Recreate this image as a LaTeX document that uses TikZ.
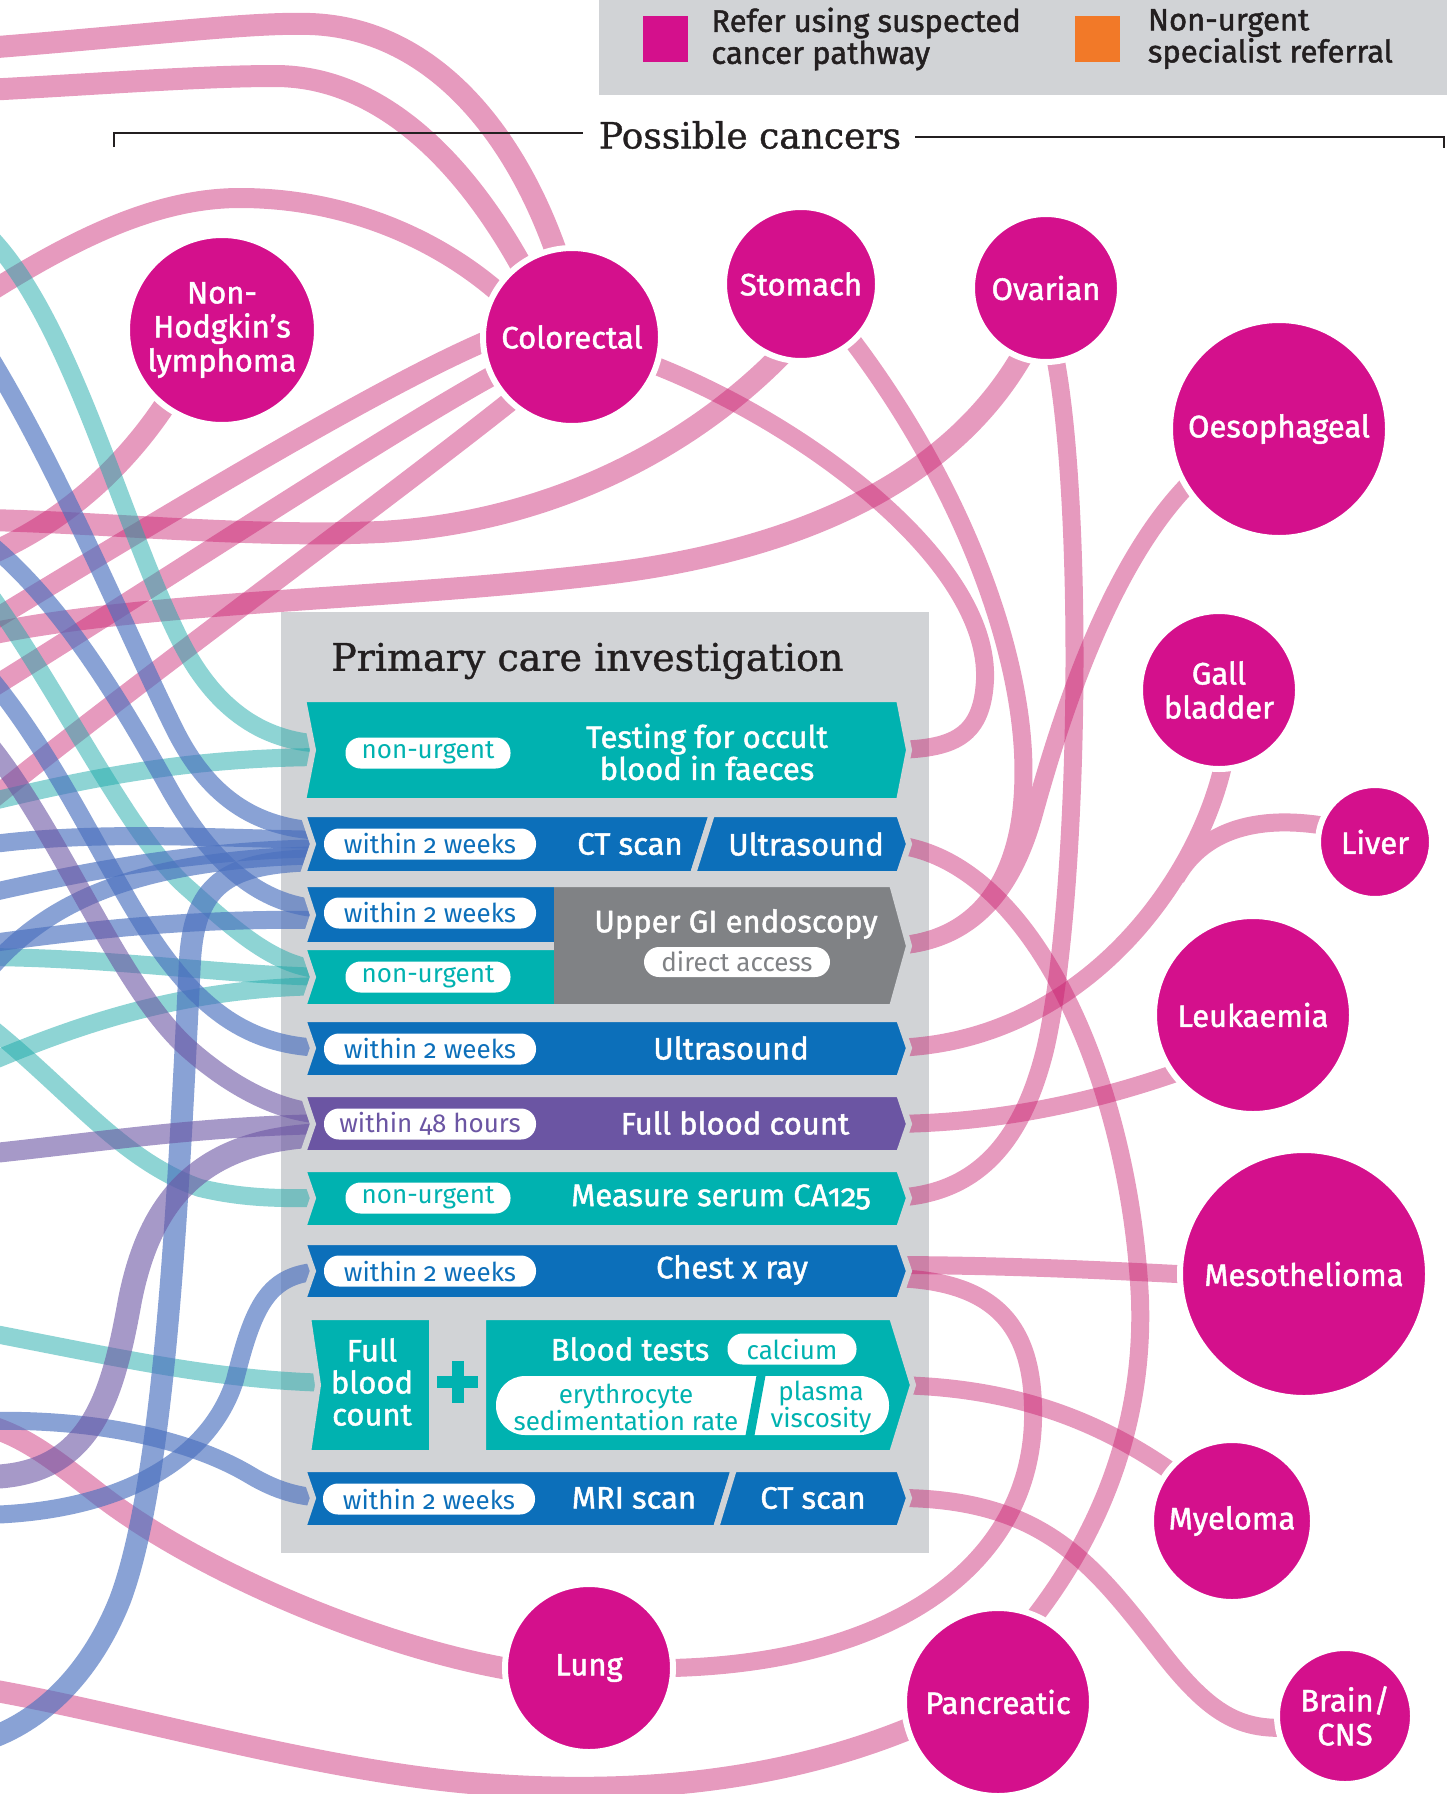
\documentclass[tikz,border=0pt]{standalone}
\usepackage{fontspec}
\setmainfont{Fira Sans}[Numbers=OldStyle]
\newfontfamily\medfont{Fira Sans}[Numbers=OldStyle,FakeBold=1.5]
\newfontfamily\headfont{DejaVu Serif}[FakeBold=1]
\usetikzlibrary{positioning}

\definecolor{cmag}{RGB}{212,16,140}
\definecolor{cpinkr}{RGB}{200,30,110}
\definecolor{cteal}{RGB}{0,178,176}
\definecolor{ctealr}{RGB}{30,170,170}
\definecolor{cblue}{RGB}{12,111,186}
\definecolor{cbluer}{RGB}{74,112,190}
\definecolor{cpurple}{RGB}{107,85,163}
\definecolor{cpanel}{RGB}{209,211,214}
\definecolor{cgreybox}{RGB}{128,130,133}
\definecolor{corange}{RGB}{242,121,40}
\definecolor{ctext}{RGB}{35,31,32}

\pgfdeclarelayer{back}
\pgfdeclarelayer{links}
\pgfsetlayers{back,links,main}

\tikzstyle{cancer} = [circle, fill=cmag, draw=white, line width=6pt, text=white, align=center, inner sep=0pt, font=\medfont\fontsize{31}{34}\selectfont]
\tikzstyle{testbox} = [draw=cpanel, line width=6pt]
\tikzstyle{testtxt} = [text=white, align=center, inner sep=0pt, font=\medfont\fontsize{31}{32}\selectfont]
\tikzstyle{pill} = [fill=white, rounded corners=15pt, minimum height=31pt, minimum width=212pt, inner sep=0pt, align=center, font=\fontsize{26}{27}\selectfont]
\tikzstyle{refer} = [draw=cpinkr, opacity=0.45, line width=18pt]
\tikzstyle{referwide} = [refer, line width=22pt]
\tikzstyle{merged} = [transparency group, opacity=0.45]
\tikzstyle{tealline} = [draw=ctealr, opacity=0.5, line width=18pt]
\tikzstyle{blueline} = [draw=cbluer, opacity=0.65, line width=18pt]
\tikzstyle{purpleline} = [draw=cpurple, opacity=0.6, line width=20pt]
\tikzstyle{tocirc} = [shorten >=-14pt]
\tikzstyle{fromcirc} = [shorten <=-14pt]
\tikzstyle{headtxt} = [text=ctext, inner sep=0pt, font=\headfont\fontsize{38}{40}\selectfont]
\tikzstyle{legendtxt} = [text=ctext, align=left, inner sep=0pt, font=\medfont\fontsize{31}{32}\selectfont]
\tikzstyle{legendsq} = [minimum width=45pt, minimum height=46pt, inner sep=0pt]
\tikzstyle{rule} = [draw=ctext, line width=2pt]

\begin{document}
\begin{tikzpicture}[x=1pt, y=-1pt]
\useasboundingbox (0,0) rectangle (1447,1794);

\begin{pgfonlayer}{back}
\fill [cpanel] (599,0) rectangle (1447,95);
\fill [cpanel] (281,612) rectangle (929,1553);
\end{pgfonlayer}

\node (refersq) [legendsq, fill=cmag] at (665.5,39) {};
\node (refertxt) [legendtxt, right=23pt of refersq] {Refer using suspected\\cancer pathway};
\node (nonsq) [legendsq, fill=corange] at (1097,39) {};
\node (nontxt) [legendtxt, right=28pt of nonsq] {Non-urgent\\specialist referral};

\node (poss) [headtxt, font=\headfont\fontsize{36}{38}\selectfont] at (750,135) {Possible cancers};
\draw [rule] (114,147) -- (114,133) -- (583,133);
\draw [rule] (915,137) -- (1444,137) -- (1444,148);

\node (pci) [headtxt, anchor=west] at (331,661) {Primary care investigation};

\filldraw [testbox, fill=cteal] (303,699) -- (899,699) -- (909,750) -- (899,801) -- (303,801) -- (313,750) -- cycle;
\filldraw [testbox, fill=cblue] (303,814) -- (712,814) -- (693,874) -- (303,874) -- (313,844) -- cycle;
\filldraw [testbox, fill=cblue] (712,814) -- (899,814) -- (909,844) -- (899,874) -- (693,874) -- cycle;
\filldraw [testbox, fill=cblue] (303,884) -- (565,884) -- (565,945) -- (303,945) -- (313,915) -- cycle;
\filldraw [testbox, fill=cteal] (303,947) -- (565,947) -- (565,1007) -- (303,1007) -- (313,977) -- cycle;
\fill [cgreybox] (554,884) -- (892,884) -- (909,946) -- (892,1007) -- (554,1007) -- cycle;
\draw [testbox] (554,884) -- (892,884) -- (909,946) -- (892,1007) -- (554,1007);
\filldraw [testbox, fill=cblue] (303,1019) -- (899,1019) -- (909,1048) -- (899,1078) -- (303,1078) -- (313,1048) -- cycle;
\filldraw [testbox, fill=cpurple] (303,1094) -- (899,1094) -- (909,1124) -- (899,1153) -- (303,1153) -- (313,1124) -- cycle;
\filldraw [testbox, fill=cteal] (303,1169) -- (899,1169) -- (909,1198) -- (899,1228) -- (303,1228) -- (313,1198) -- cycle;
\filldraw [testbox, fill=cblue] (303,1242) -- (899,1242) -- (909,1271) -- (899,1300) -- (303,1300) -- (313,1271) -- cycle;
\filldraw [testbox, fill=cteal] (308,1317) -- (432,1317) -- (432,1453) -- (308,1453) -- (318,1385) -- cycle;
\filldraw [testbox, fill=cteal] (483,1317) -- (892,1317) -- (913,1385) -- (892,1453) -- (483,1453) -- cycle;
\filldraw [testbox, fill=cblue] (303,1469) -- (734,1469) -- (716,1528) -- (303,1528) -- (313,1498) -- cycle;
\filldraw [testbox, fill=cblue] (734,1469) -- (899,1469) -- (909,1498) -- (899,1528) -- (716,1528) -- cycle;
\fill [cteal] (452,1361) rectangle (464,1403);
\fill [cteal] (437,1376) rectangle (478,1388);

\node (fobpill) [pill, text=cteal, minimum width=165pt] at (428,753) {non-urgent};
\node (fob) [testtxt] at (707,752) {Testing for occult\\blood in faeces};
\node (ctpill) [pill, text=cblue] at (430,844) {within 2 weeks};
\node (ct) [testtxt] at (630,844) {CT scan};
\node (ctus) [testtxt] at (806,844) {Ultrasound};
\node (ugpill) [pill, text=cblue] at (430,913) {within 2 weeks};
\node (ugtpill) [pill, text=cteal, minimum width=165pt] at (428,977) {non-urgent};
\node (ugi) [testtxt] at (736,924) {Upper GI endoscopy};
\node (direct) [pill, text=cgreybox, minimum width=186pt, minimum height=30pt] at (737,962) {direct access};
\node (uspill) [pill, text=cblue] at (430,1049) {within 2 weeks};
\node (us) [testtxt] at (731,1048) {Ultrasound};
\node (fbpill) [pill, text=cpurple] at (430,1124) {within 48 hours};
\node (fbc) [testtxt] at (735,1123) {Full blood count};
\node (capill) [pill, text=cteal, minimum width=165pt] at (428,1198) {non-urgent};
\node (ca) [testtxt] at (721,1197) {Measure serum CA125};
\node (cxpill) [pill, text=cblue] at (430,1271) {within 2 weeks};
\node (cx) [testtxt] at (732,1270) {Chest x ray};
\node (fbc2) [testtxt] at (372,1382) {Full\\blood\\count};
\node (bt) [testtxt] at (630,1349) {Blood tests};
\node (calc) [pill, text=cteal, minimum width=129pt] at (792,1349) {calcium};
\node (btpill) [pill, minimum width=393pt, minimum height=59pt, rounded corners=29pt] at (692.5,1405.5) {};
\fill [cteal] (757,1373) -- (766,1373) -- (754,1438) -- (745,1438) -- cycle;
\node (esr) [pill, fill=none, text=cteal] at (626,1407) {erythrocyte\\sedimentation rate};
\node (pv) [pill, fill=none, text=cteal, minimum width=100pt] at (821,1407) {plasma\\viscosity};
\node (mrpill) [pill, text=cblue] at (429,1499) {within 2 weeks};
\node (mri) [testtxt] at (634,1498) {MRI scan};
\node (ct2) [testtxt] at (813,1498) {CT scan};

\node (nhl) [cancer, minimum size=190pt] at (222,330) {Non-\\Hodgkin’s\\lymphoma};
\node (colo) [cancer, minimum size=178pt] at (572,337) {Colorectal};
\node (stom) [cancer, minimum size=154pt] at (801,284) {Stomach};
\node (ov) [cancer, minimum size=148pt] at (1046,288) {Ovarian};
\node (oes) [cancer, minimum size=218pt] at (1279,429) {Oesophageal};
\node (gb) [cancer, minimum size=158pt] at (1219,690) {Gall\\bladder};
\node (liver) [cancer, minimum size=114pt] at (1375,842) {Liver};
\node (leuk) [cancer, minimum size=198pt] at (1253,1015) {Leukaemia};
\node (meso) [cancer, minimum size=248pt] at (1304,1274) {Mesothelioma};
\node (myel) [cancer, minimum size=162pt] at (1232,1521) {Myeloma};
\node (brain) [cancer, minimum size=136pt] at (1345,1716) {Brain/\\CNS};
\node (panc) [cancer, minimum size=188pt] at (998,1702) {Pancreatic};
\node (lung) [cancer, minimum size=168pt] at (589,1668) {Lung};

\coordinate (pkA) at (-15,48);
\coordinate (pkB) at (-15,90);
\coordinate (pkC) at (-15,295);
\coordinate (pkNHL) at (-15,556);
\coordinate (pkStom) at (-15,520);
\coordinate (pkOv) at (-15,635);
\coordinate (pkCol1) at (-15,625);
\coordinate (pkCol2) at (-15,692);
\coordinate (pkCol3) at (-15,805);
\coordinate (pkLung) at (-15,1425);
\coordinate (pkPanc) at (-15,1689);
\coordinate (tlA) at (-15,232);
\coordinate (tlB) at (-15,803);
\coordinate (tlC) at (-15,588);
\coordinate (tlD) at (-15,957);
\coordinate (tlE) at (-15,1064);
\coordinate (tlF) at (-15,1023);
\coordinate (tlG) at (-15,1332);
\coordinate (blA) at (-15,349);
\coordinate (blB) at (-15,540);
\coordinate (blC) at (-15,672);
\coordinate (blD) at (-15,845);
\coordinate (blE) at (-15,894);
\coordinate (blF) at (-15,975);
\coordinate (blG) at (-15,1740);
\coordinate (blH) at (-15,944);
\coordinate (blI) at (-15,1515);
\coordinate (blJ) at (-15,1421);
\coordinate (puA) at (-15,740);
\coordinate (puB) at (-15,1154);
\coordinate (puC) at (-15,1477);

\coordinate (fobL1) at (330,744);
\coordinate (fobL2) at (330,757);
\coordinate (ctL1) at (330,831);
\coordinate (ctL2) at (330,840);
\coordinate (ctL3) at (330,848);
\coordinate (ctL4) at (330,855);
\coordinate (ctL5) at (330,860);
\coordinate (ugL1) at (330,909);
\coordinate (ugL2) at (330,920);
\coordinate (utL1) at (330,970);
\coordinate (utL2) at (330,977);
\coordinate (utL3) at (330,986);
\coordinate (usL) at (330,1048);
\coordinate (fbL1) at (330,1114);
\coordinate (fbL2) at (330,1124);
\coordinate (fbL3) at (330,1135);
\coordinate (caL) at (330,1198);
\coordinate (cxL) at (330,1271);
\coordinate (bcL) at (335,1383);
\coordinate (mrL) at (330,1498);
\coordinate (fobR) at (885,750);
\coordinate (ctR) at (885,844);
\coordinate (ugR) at (885,946);
\coordinate (usR) at (885,1048);
\coordinate (fbR) at (885,1124);
\coordinate (caR) at (885,1198);
\coordinate (cxR1) at (885,1265);
\coordinate (cxR2) at (885,1278);
\coordinate (btR) at (885,1385);
\coordinate (mrR) at (885,1498);
\coordinate (gbjoin) at (1176,878);

\begin{pgfonlayer}{links}
\draw [referwide, tocirc] (pkA) .. controls (150,35) and (250,22) .. (310,24) .. controls (430,28) and (515,130) .. (colo.101);
\draw [referwide, tocirc] (pkB) .. controls (100,84) and (200,76) .. (275,76) .. controls (385,76) and (470,170) .. (colo.125);
\draw [refer, tocirc, line width=20pt] (pkC) .. controls (80,235) and (160,198) .. (240,198) .. controls (340,198) and (435,235) .. (colo.148);
\draw [referwide, fromcirc] (nhl.233) .. controls (130,460) and (70,520) .. (pkNHL);
\draw [referwide, fromcirc] (stom.252) .. controls (700,440) and (560,522) .. (380,532) .. controls (250,538) and (100,522) .. (pkStom);
\draw [referwide, fromcirc] (ov.250) .. controls (960,470) and (820,545) .. (620,572) .. controls (400,600) and (150,600) .. (pkOv);
\draw [refer, fromcirc, line width=20pt] (colo.184) .. controls (380,385) and (150,525) .. (pkCol1);
\draw [refer, fromcirc, line width=20pt] (colo.206) .. controls (400,425) and (150,590) .. (pkCol2);
\draw [refer, fromcirc, line width=20pt] (colo.226) .. controls (400,490) and (100,710) .. (pkCol3);
\draw [refer, fromcirc] (colo.341) .. controls (800,420) and (990,560) .. (985,680) .. controls (982,740) and (950,750) .. (fobR);
\begin{scope}[merged]
\draw [refer, opacity=1, fromcirc] (stom.312) .. controls (960,480) and (1030,660) .. (1023,790) .. controls (1018,900) and (960,946) .. (ugR);
\draw [refer, opacity=1, fromcirc] (oes.212) .. controls (1110,560) and (1060,720) .. (1035,810) .. controls (1015,885) and (975,946) .. (ugR);
\end{scope}
\draw [refer, fromcirc] (ov.278) .. controls (1085,500) and (1080,900) .. (1045,1050) .. controls (1020,1150) and (970,1198) .. (caR);
\draw [refer, tocirc] (ctR) .. controls (1030,850) and (1130,1080) .. (1140,1300) .. controls (1145,1450) and (1080,1560) .. (panc.66);
\begin{scope}[merged]
\draw [refer, opacity=1, fromcirc] (gb.272) .. controls (1200,880) and (1080,1048) .. (usR);
\draw [refer, opacity=1, fromcirc] (liver.163) .. controls (1250,812) and (1200,835) .. (gbjoin);
\end{scope}
\draw [refer, tocirc] (fbR) .. controls (1000,1124) and (1100,1100) .. (leuk.216);
\draw [refer, tocirc] (cxR1) .. controls (1000,1265) and (1100,1270) .. (meso.180);
\draw [refer, tocirc] (cxR2) .. controls (1000,1278) and (1035,1330) .. (1033,1420) .. controls (1030,1560) and (900,1665) .. (lung.0);
\draw [refer, tocirc] (btR) .. controls (1010,1385) and (1100,1420) .. (myel.141);
\draw [refer, tocirc] (mrR) .. controls (1040,1495) and (1090,1560) .. (1160,1650) .. controls (1210,1715) and (1240,1730) .. (brain.190);
\draw [referwide, fromcirc] (lung.180) .. controls (380,1648) and (200,1572) .. (100,1495) .. controls (55,1460) and (25,1436) .. (pkLung);
\draw [referwide, fromcirc] (panc.197) .. controls (800,1775) and (650,1800) .. (460,1782) .. controls (300,1766) and (120,1712) .. (pkPanc);

\draw [tealline] (tlA) .. controls (70,315) and (120,520) .. (180,640) .. controls (215,710) and (265,744) .. (fobL1);
\draw [tealline] (tlB) .. controls (100,775) and (200,757) .. (fobL2);
\draw [tealline] (tlC) .. controls (60,690) and (130,840) .. (190,890) .. controls (240,935) and (280,970) .. (utL1);
\draw [tealline] (tlD) .. controls (120,958) and (220,975) .. (utL2);
\draw [tealline] (tlE) .. controls (100,1015) and (200,987) .. (utL3);
\draw [tealline] (tlF) .. controls (70,1090) and (120,1160) .. (200,1188) .. controls (250,1200) and (290,1198) .. (caL);
\draw [tealline] (tlG) .. controls (120,1358) and (220,1381) .. (bcL);

\draw [blueline] (blA) .. controls (60,470) and (130,640) .. (175,730) .. controls (210,800) and (260,831) .. (ctL1);
\draw [blueline] (blB) .. controls (60,600) and (120,700) .. (170,790) .. controls (210,860) and (260,909) .. (ugL1);
\draw [blueline] (blC) .. controls (60,760) and (110,880) .. (160,950) .. controls (210,1020) and (260,1048) .. (usL);
\draw [blueline] (blD) .. controls (100,830) and (200,838) .. (ctL2);
\draw [blueline] (blE) .. controls (100,868) and (200,850) .. (ctL3);
\draw [blueline] (blF) .. controls (50,895) and (150,858) .. (ctL4);
\draw [blueline, line width=22pt] (ctL5) .. controls (230,860) and (195,880) .. (190,960) .. controls (178,1200) and (165,1480) .. (120,1600) .. controls (90,1675) and (40,1722) .. (blG);
\draw [blueline] (blH) .. controls (100,928) and (200,918) .. (ugL2);
\draw [blueline] (blI) .. controls (120,1512) and (210,1460) .. (235,1380) .. controls (255,1300) and (270,1271) .. (cxL);
\draw [blueline] (blJ) .. controls (110,1418) and (200,1445) .. (250,1475) .. controls (275,1490) and (300,1498) .. (mrL);

\draw [purpleline] (puA) .. controls (60,830) and (120,990) .. (190,1050) .. controls (230,1085) and (280,1114) .. (fbL1);
\draw [purpleline] (puB) .. controls (100,1142) and (200,1126) .. (fbL2);
\draw [purpleline, line width=24pt] (puC) .. controls (90,1477) and (112,1400) .. (130,1300) .. controls (150,1200) and (200,1137) .. (fbL3);
\end{pgfonlayer}

\end{tikzpicture}
\end{document}
